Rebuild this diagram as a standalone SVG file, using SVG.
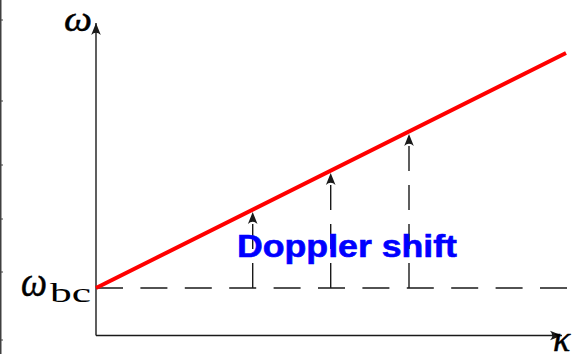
<svg xmlns="http://www.w3.org/2000/svg" width="588" height="354" viewBox="0 0 588 354">
  <style>
    .axis { stroke: #1a1a1a; stroke-width: 1.4; fill: none; }
    .dash { stroke: #1a1a1a; stroke-width: 1.4; fill: none; stroke-dasharray: 27 17.4; }
    .vdash { stroke: #1a1a1a; stroke-width: 1.4; fill: none; stroke-dasharray: 25 14; }
    .curve { stroke: #ff0000; stroke-width: 4; fill: none; stroke-linecap: butt; }
    .math { font-family: "Liberation Serif", "DejaVu Serif", serif; font-style: italic; fill: #000; stroke: #000; stroke-width: 0.5; }
    .rm { font-family: "Liberation Serif", "DejaVu Serif", serif; fill: #000; }
    .lbl { font-family: "Liberation Sans", Arial, sans-serif; font-weight: bold; fill: #0000ff; stroke: #0000ff; stroke-width: 0.6; }
  </style>
  <defs>
    <marker id="arr" markerUnits="userSpaceOnUse" markerWidth="16" markerHeight="12" viewBox="-13 -6 16 12" refX="0" refY="0" orient="auto">
      <path d="M0,0 L-12,-4.8 Q-7.5,0 -12,4.8 Z" fill="#1a1a1a" stroke="none"/>
    </marker>
  </defs>
  <rect width="588" height="354" fill="#ffffff"/>
  <g id="frame-edge">
    <rect x="0" y="0" width="1.5" height="354" fill="#404040"/>
    <path d="M0,20H3M0,101H3M0,165H3M0,219H3M0,272H3M0,340H3" stroke="#404040" stroke-width="1"/>
  </g>
  <g id="axes">
    <line class="axis" x1="96" y1="335.5" x2="96" y2="23" marker-end="url(#arr)"/>
    <line class="axis" x1="96" y1="335.5" x2="562" y2="335.5" marker-end="url(#arr)"/>
  </g>
  <g id="baseline">
    <line class="dash" x1="96" y1="288" x2="567" y2="288"/>
  </g>
  <g id="connectors">
    <line class="vdash" x1="252.7" y1="288" x2="252.7" y2="212" marker-end="url(#arr)"/>
    <line class="vdash" x1="330.7" y1="288" x2="330.7" y2="173" marker-end="url(#arr)"/>
    <line class="vdash" x1="409" y1="288" x2="409" y2="134" marker-end="url(#arr)"/>
  </g>
  <g id="dispersion">
    <line class="curve" x1="96" y1="288" x2="566" y2="53"/>
  </g>
  <g id="labels">
    <text id="omega" class="math" x="64" y="31" font-size="36" textLength="28" lengthAdjust="spacingAndGlyphs">ω</text>
    <g id="omega-bc">
      <text class="math" x="21" y="296" font-size="42" textLength="26" lengthAdjust="spacingAndGlyphs">ω</text>
      <text class="rm" x="50" y="302" font-size="28" textLength="41" lengthAdjust="spacingAndGlyphs">bc</text>
    </g>
    <text id="kappa" class="math" x="553" y="351" font-size="36">κ</text>
    <text id="doppler" class="lbl" x="237" y="257" font-size="32" textLength="220" lengthAdjust="spacingAndGlyphs">Doppler shift</text>
  </g>
</svg>
